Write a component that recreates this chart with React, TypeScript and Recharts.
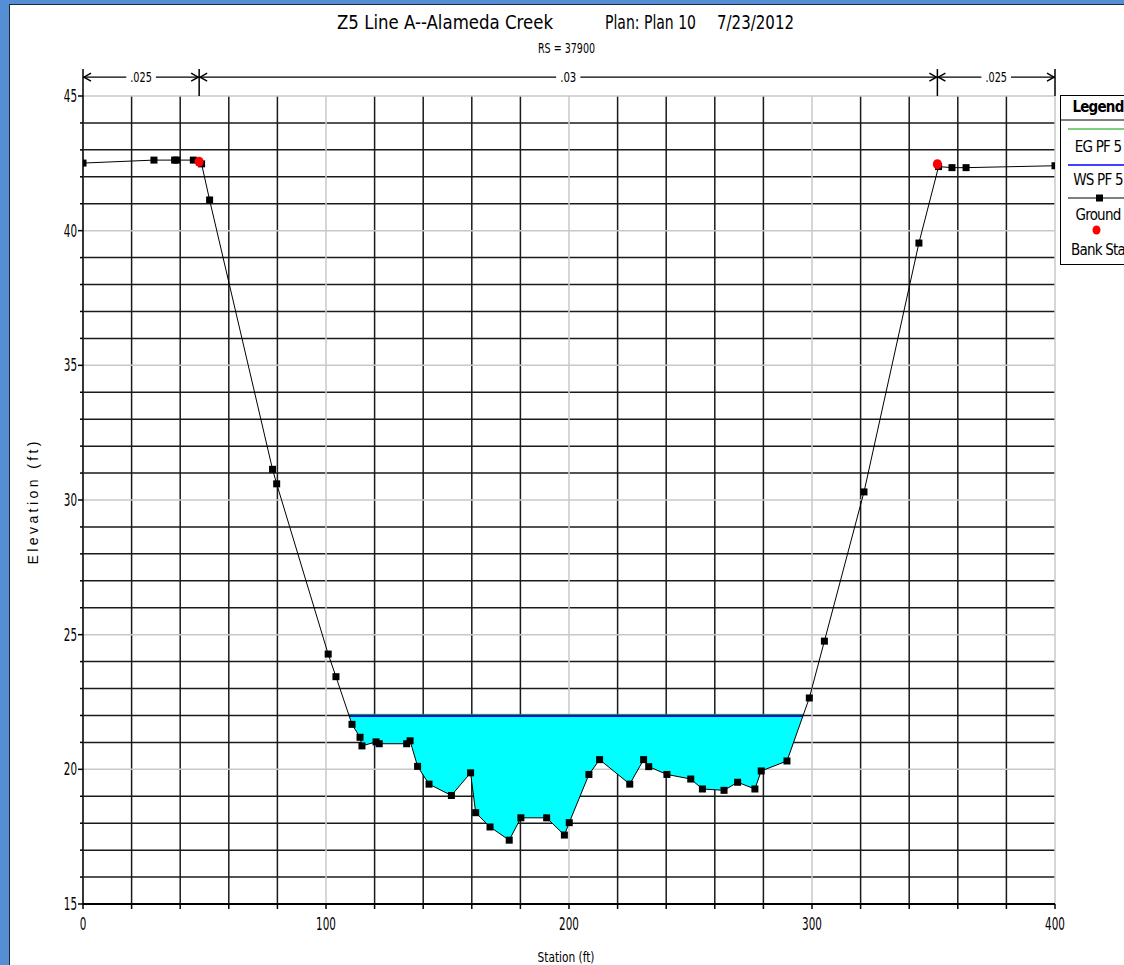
import React from 'react';
import {
  Area,
  CartesianGrid,
  ComposedChart,
  Label,
  Line,
  ReferenceLine,
  Scatter,
  XAxis,
  YAxis,
} from 'recharts';

const FONT = "'Liberation Sans Narrow', 'Arial Narrow', 'DejaVu Sans Condensed', Arial, sans-serif";

// Ground profile, RS 37900 (station ft / elevation ft)
const groundStation = [
  0, 29.2, 37.7, 38.5, 45.4, 48.8, 52.1, 78.0, 79.7, 100.9, 104.1, 110.7, 114.0, 114.8, 120.6, 121.9,
  133.2, 134.6, 137.7, 142.4, 151.6, 159.5, 161.6, 167.5, 175.4, 180.2, 190.8, 198.1, 200.1, 208.2,
  212.6, 225.0, 230.7, 232.8, 240.3, 250.1, 254.9, 263.8, 269.4, 276.5, 279.1, 289.7, 298.9, 305.1,
  321.4, 344.0, 352.1, 357.6, 363.4, 400,
];
const groundElevation = [
  42.51, 42.62, 42.62, 42.62, 42.62, 42.48, 41.14, 31.14, 30.6, 24.28, 23.44, 21.67, 21.19, 20.87, 21.02,
  20.95, 20.95, 21.06, 20.11, 19.45, 19.03, 19.87, 18.39, 17.86, 17.37, 18.2, 18.2, 17.56, 18.02, 19.81,
  20.36, 19.45, 20.36, 20.1, 19.81, 19.64, 19.27, 19.22, 19.52, 19.27, 19.94, 20.31, 22.65, 24.76,
  30.3, 39.54, 42.38, 42.34, 42.34, 42.41,
];

// Bank stations
const bankStation = [47.8, 351.6];
const bankElevation = [42.56, 42.47];

// Profile PF 5
const wsElevation = 21.98;
const egElevation = 22.04;

// Manning's n by reach of the section
const nValues = ['.025', '.03', '.025'];
const nBreaks = [0, bankStation[0], bankStation[1], 400];

const xTicks = [0, 20, 40, 60, 80, 100, 120, 140, 160, 180, 200, 220, 240, 260, 280, 300, 320, 340, 360, 380, 400];
const xLabelled = [0, 100, 200, 300, 400];
const yTicks = [
  15, 16, 17, 18, 19, 20, 21, 22, 23, 24, 25, 26, 27, 28, 29, 30, 31, 32, 33, 34, 35, 36, 37, 38, 39, 40,
  41, 42, 43, 44, 45,
];
const yLabelled = [15, 20, 25, 30, 35, 40, 45];

const ground = groundStation.map((x, i) => ({ x, y: groundElevation[i] }));
const banks = bankStation.map((x, i) => ({ x, y: bankElevation[i] }));

// where a level crosses the ground on each side of the channel
function edgesAt(level: number) {
  let left = 0;
  let right = 400;
  let foundLeft = false;
  for (let i = 0; i < ground.length - 1; i++) {
    const a = ground[i];
    const b = ground[i + 1];
    if (!foundLeft && a.y >= level && b.y < level) {
      left = a.x + ((a.y - level) / (a.y - b.y)) * (b.x - a.x);
      foundLeft = true;
    }
    if (a.y < level && b.y >= level) {
      right = a.x + ((level - a.y) / (b.y - a.y)) * (b.x - a.x);
    }
  }
  return [left, right];
}

const [wsLeft, wsRight] = edgesAt(wsElevation);
const [egLeft, egRight] = edgesAt(egElevation);

const water = [
  { x: wsLeft, range: [wsElevation, wsElevation] },
  ...ground.filter((p) => p.x > wsLeft && p.x < wsRight).map((p) => ({ x: p.x, range: [p.y, wsElevation] })),
  { x: wsRight, range: [wsElevation, wsElevation] },
];
const wsLine = [
  { x: wsLeft, y: wsElevation },
  { x: wsRight, y: wsElevation },
];
const egLine = [
  { x: egLeft, y: egElevation },
  { x: egRight, y: egElevation },
];

const N_ROW = 45.7;
const N_TOP = 46.0;

const yMajor = yLabelled;
const yMinor = yTicks.filter((v) => !yLabelled.includes(v));
const xMajor = xLabelled;
const xMinor = xTicks.filter((v) => !xLabelled.includes(v));

// the plot font is a narrow face; fix the width of numbers per digit
const numWidth = (v: number) => String(v).length * 6.6;

function YTick(props: any) {
  const { x, y, payload } = props;
  const major = yLabelled.includes(payload.value);
  return (
    <g>
      <line x1={x - (major ? 5 : 3)} y1={y} x2={x} y2={y} stroke="#000" strokeWidth={1.5} />
      {major && (
        <text
          x={x - 6}
          y={y + 6}
          textAnchor="end"
          fontSize={17}
          fontFamily={FONT}
          fill="#000"
          textLength={numWidth(payload.value)}
          lengthAdjust="spacingAndGlyphs"
        >
          {payload.value}
        </text>
      )}
    </g>
  );
}

function XTick(props: any) {
  const { x, y, payload } = props;
  const major = xLabelled.includes(payload.value);
  const w = numWidth(payload.value);
  return (
    <g>
      <line x1={x} y1={y} x2={x} y2={y + 5} stroke="#000" strokeWidth={1.5} />
      {major && (
        <text
          x={x - w / 2}
          y={y + 26}
          fontSize={17}
          fontFamily={FONT}
          fill="#000"
          textLength={w}
          lengthAdjust="spacingAndGlyphs"
        >
          {payload.value}
        </text>
      )}
    </g>
  );
}

function SquareDot(props: any) {
  const { cx, cy } = props;
  if (cx == null || cy == null) return null;
  return <rect key={`g-${cx}-${cy}`} x={cx - 3.5} y={cy - 3.5} width={7} height={7} fill="#000" />;
}

function BankDot(props: any) {
  const { cx, cy } = props;
  return <ellipse cx={cx} cy={cy} rx={4.5} ry={5} fill="#ff0000" />;
}

// horizontal span with open arrowheads and the n value in a gap at the middle
const nSpan = (label: string) => (p: any) => {
  const { x1, x2, y1 } = p;
  const mid = (x1 + x2) / 2;
  const tw = label.length * 5.4;
  const gap = tw + 8;
  const w = 8;
  const h = 4;
  return (
    <g>
      <line x1={x1} y1={y1} x2={mid - gap / 2} y2={y1} stroke="#000" strokeWidth={1.2} />
      <line x1={mid + gap / 2} y1={y1} x2={x2} y2={y1} stroke="#000" strokeWidth={1.2} />
      <polyline points={`${x1 + w},${y1 - h} ${x1 + 1},${y1} ${x1 + w},${y1 + h}`} fill="none" stroke="#000" strokeWidth={1.5} />
      <polyline points={`${x2 - w},${y1 - h} ${x2 - 1},${y1} ${x2 - w},${y1 + h}`} fill="none" stroke="#000" strokeWidth={1.5} />
      <text
        x={mid - tw / 2}
        y={y1 + 5}
        fontSize={14}
        fontFamily={FONT}
        fill="#000"
        textLength={tw}
        lengthAdjust="spacingAndGlyphs"
      >
        {label}
      </text>
    </g>
  );
};

const renderXTitle = (props: any) => {
  const vb = props.viewBox;
  const cx = vb.x + vb.width / 2 - 3;
  return (
    <text x={cx - 28.5} y={vb.y + 58} fontSize={14} fontFamily={FONT} fill="#000" textLength={57} lengthAdjust="spacingAndGlyphs">
      Station (ft)
    </text>
  );
};

const renderYTitle = (props: any) => {
  const vb = props.viewBox;
  const cx = 33;
  const cy = vb.y + vb.height / 2 + 3;
  return (
    <text
      x={cx - 61.5}
      y={cy + 5}
      transform={`rotate(-90 ${cx} ${cy})`}
      fontSize={14}
      fontFamily="Arial, 'Liberation Sans', sans-serif"
      fill="#000"
      textLength={123}
      lengthAdjust="spacing"
    >
      Elevation (ft)
    </text>
  );
};

function Title() {
  const t = { fontSize: 19, fontFamily: FONT, fill: '#000', lengthAdjust: 'spacingAndGlyphs' } as const;
  return (
    <svg width={1124} height={60} style={{ position: 'absolute', left: 0, top: 0 }}>
      <text x={337} y={29} textLength={216} {...t}>Z5 Line A--Alameda Creek</text>
      <text x={605} y={29} textLength={91} {...t}>Plan: Plan 10</text>
      <text x={717} y={29} textLength={77} {...t}>7/23/2012</text>
      <text x={538} y={53} fontSize={14} fontFamily={FONT} fill="#000" textLength={57} lengthAdjust="spacingAndGlyphs">
        RS = 37900
      </text>
    </svg>
  );
}

function LegendBox() {
  const text = { fontSize: 15, letterSpacing: -0.8, fontFamily: FONT, fill: '#000' } as const;
  return (
    <svg width={80} height={172} style={{ position: 'absolute', left: 1060, top: 95 }}>
      <rect x={0.5} y={0.5} width={90} height={169} fill="#fff" stroke="#000" />
      <text x={38} y={17} textAnchor="middle" fontWeight="bold" {...text}>
        Legend
      </text>
      <line x1={0} y1={25} x2={80} y2={25} stroke="#000" />
      <line x1={8} y1={34} x2={80} y2={34} stroke="#00a000" strokeWidth={1.2} />
      <text x={38} y={57} textAnchor="middle" {...text}>EG PF 5</text>
      <line x1={8} y1={70} x2={80} y2={70} stroke="#0000ff" strokeWidth={1.5} />
      <text x={38} y={90} textAnchor="middle" {...text}>WS PF 5</text>
      <line x1={8} y1={103} x2={80} y2={103} stroke="#000" />
      <rect x={36} y={99.5} width={7} height={7} fill="#000" />
      <text x={38} y={125} textAnchor="middle" {...text}>Ground</text>
      <ellipse cx={36.5} cy={135} rx={4} ry={4.5} fill="#ff0000" />
      <text x={38} y={160} textAnchor="middle" {...text}>Bank Sta</text>
    </svg>
  );
}

export default function App() {
  return (
    <div style={{ position: 'relative', width: 1124, height: 965, overflow: 'hidden', background: '#fff' }}>
      <style>{'body{margin:0;overflow:hidden}'}</style>
      <div style={{ position: 'absolute', left: 0, top: 0, width: 9, height: 965, background: '#558ed5' }} />
      <div style={{ position: 'absolute', left: 0, top: 0, width: 1124, height: 4, background: '#558ed5' }} />
      <div style={{ position: 'absolute', left: 9, top: 4, width: 1, height: 961, background: '#1d2b44' }} />
      <div style={{ position: 'absolute', left: 9, top: 4, width: 1115, height: 1, background: '#1d2b44' }} />

      <Title />

      <div style={{ position: 'absolute', left: 0, top: 0 }}>
        <ComposedChart width={1124} height={965} margin={{ top: 96, right: 69, bottom: 0, left: 0 }}>
          <CartesianGrid horizontalValues={yMinor} verticalValues={xMinor} stroke="#1a1a1a" strokeWidth={1.5} />
          <CartesianGrid horizontalValues={yMajor} verticalValues={xMajor} stroke="#c8c8c8" strokeWidth={1.5} />
          <XAxis
            type="number"
            dataKey="x"
            domain={[0, 400]}
            ticks={xTicks}
            interval={0}
            height={61}
            tickSize={0}
            tickMargin={0}
            tickLine={false}
            tick={<XTick />}
            axisLine={{ stroke: '#000', strokeWidth: 2 }}
            allowDataOverflow
          >
            <Label content={renderXTitle} />
          </XAxis>
          <YAxis
            type="number"
            dataKey="y"
            domain={[15, 45]}
            ticks={yTicks}
            interval={0}
            width={83}
            tickSize={0}
            tickMargin={0}
            tickLine={false}
            tick={<YTick />}
            axisLine={{ stroke: '#000', strokeWidth: 1.5 }}
            allowDataOverflow
          >
            <Label content={renderYTitle} />
          </YAxis>

          {nValues.map((label, i) => (
            <ReferenceLine
              key={`n-${i}`}
              segment={[
                { x: nBreaks[i], y: N_ROW },
                { x: nBreaks[i + 1], y: N_ROW },
              ]}
              ifOverflow="visible"
              shape={nSpan(label)}
            />
          ))}
          {nBreaks.map((b, i) => (
            <ReferenceLine
              key={`nb-${i}`}
              segment={[
                { x: b, y: 45 },
                { x: b, y: N_TOP },
              ]}
              ifOverflow="visible"
              stroke="#000"
              strokeWidth={1.5}
            />
          ))}

          <Area
            data={water}
            dataKey="range"
            type="linear"
            fill="#00ffff"
            fillOpacity={1}
            stroke="none"
            isAnimationActive={false}
          />
          <Line data={egLine} dataKey="y" type="linear" stroke="#00a000" strokeWidth={1} dot={false} isAnimationActive={false} />
          <Line data={wsLine} dataKey="y" type="linear" stroke="#0000ff" strokeWidth={2} dot={false} isAnimationActive={false} />
          <Line
            data={ground}
            dataKey="y"
            type="linear"
            stroke="#000"
            strokeWidth={1}
            dot={<SquareDot />}
            activeDot={false}
            isAnimationActive={false}
          />
          <Scatter data={banks} dataKey="y" shape={<BankDot />} isAnimationActive={false} />
        </ComposedChart>
      </div>

      <LegendBox />
    </div>
  );
}
